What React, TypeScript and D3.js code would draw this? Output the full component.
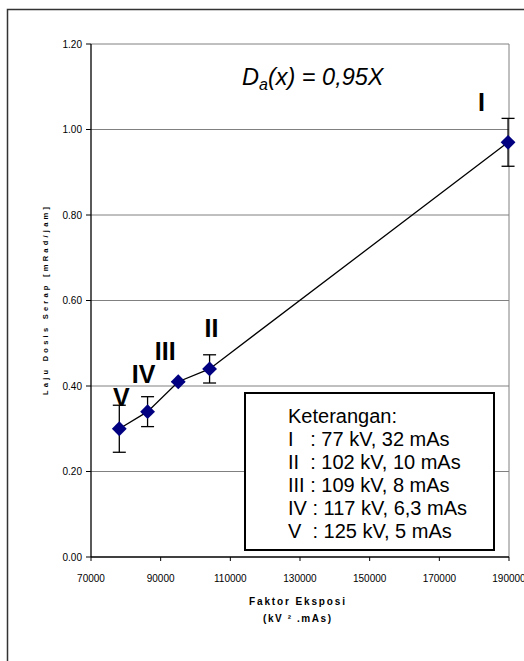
import React from 'react';
import * as d3 from 'd3';

// data
const pointLabels = ['I', 'II', 'III', 'IV', 'V'];
const exposure = [189728, 104040, 95048, 86240, 78125]; // kV^2 . mAs
const doseRate = [0.97, 0.44, 0.41, 0.34, 0.30];
const doseErr = [0.056, 0.033, 0, 0.035, 0.055];
const xTicks = [70000, 90000, 110000, 130000, 150000, 170000, 190000];
const yTicks = [0, 0.2, 0.4, 0.6, 0.8, 1.0, 1.2];
const legendTitle = 'Keterangan:';
const legendLines = [
    'I   : 77 kV, 32 mAs',
    'II  : 102 kV, 10 mAs',
    'III : 109 kV, 8 mAs',
    'IV : 117 kV, 6,3 mAs',
    'V  : 125 kV, 5 mAs',
];

// layout offsets of the roman numeral labels (px, relative to marker)
const labelDx = [-26.5, 2, -13, -4, 2];
const labelDy = [-31, -32, -22, -29, -23];

const W = 524;
const H = 661;
const plot = {left: 91, right: 509, top: 44, bottom: 557};
const font = 'Arial, "Liberation Sans", sans-serif';

const App: React.FC = () => {
    const x = d3.scaleLinear().domain([70000, 190000]).range([plot.left, plot.right]);
    const y = d3.scaleLinear().domain([0, 1.2]).range([plot.bottom, plot.top]);

    const pts = exposure.map((e, i) => ({e, v: doseRate[i], err: doseErr[i], label: pointLabels[i], i}))
        .sort((a, b) => a.e - b.e);

    const line = d3.line<{e: number; v: number}>().x(d => x(d.e)).y(d => y(d.v));
    const diamond = d3.symbol().type(d3.symbolSquare).size(110)();
    const fmtY = d3.format('.2f');

    return (
        <svg width={W} height={H} style={{position: 'absolute', left: 0, top: 0, background: '#fff'}}
             fontFamily={font}>
            <rect x={7.5} y={9.5} width={700} height={700} fill="#fff" stroke="#333" strokeWidth={1.5}/>

            {/* gridlines */}
            {yTicks.filter(t => t > 0).map(t => (
                <line key={'g' + t} x1={plot.left} x2={plot.right} y1={y(t)} y2={y(t)}
                      stroke="#808080" strokeWidth={1}/>
            ))}
            <line x1={plot.right} x2={plot.right} y1={plot.top} y2={plot.bottom} stroke="#808080" strokeWidth={1}/>

            {/* y axis */}
            <line x1={plot.left} x2={plot.left} y1={plot.top} y2={plot.bottom} stroke="#000" strokeWidth={1.3}/>
            {yTicks.map(t => (
                <g key={'y' + t}>
                    <line x1={plot.left - 5} x2={plot.left} y1={y(t)} y2={y(t)} stroke="#000"/>
                    <text x={82} y={y(t)} dy="0.35em" textAnchor="end" fontSize={10} fill="#000">{fmtY(t)}</text>
                </g>
            ))}

            {/* x axis */}
            <line x1={plot.left} x2={plot.right} y1={plot.bottom} y2={plot.bottom} stroke="#000" strokeWidth={1.3}/>
            {xTicks.map(t => (
                <g key={'x' + t}>
                    <line x1={x(t)} x2={x(t)} y1={plot.bottom} y2={plot.bottom + 4} stroke="#000"/>
                    <text x={x(t)} y={582} textAnchor="middle" fontSize={10} fill="#000">{t}</text>
                </g>
            ))}

            {/* axis titles */}
            <text transform="translate(48,301) rotate(-90)" textAnchor="middle" fontSize={7.5} fontWeight="bold"
                  textLength={188} lengthAdjust="spacing">Laju Dosis Serap [mRad/jam]</text>
            <text x={297} y={605} textAnchor="middle" fontSize={10} fontWeight="bold"
                  textLength={96} lengthAdjust="spacing">Faktor Eksposi</text>
            <text x={297} y={622} textAnchor="middle" fontSize={10} fontWeight="bold"
                  textLength={68} lengthAdjust="spacing">(kV ² .mAs)</text>

            {/* formula */}
            <text x={242} y={85} fontSize={23.5} fontStyle="italic" fill="#000">
                D<tspan dy={5} fontSize={16}>a</tspan><tspan dy={-5}>(x) = 0,95X</tspan>
            </text>

            {/* legend */}
            <rect x={245} y={393} width={249} height={157} fill="#fff" stroke="#000" strokeWidth={2}/>
            <text x={288} y={422.5} fontSize={20} fill="#000">{legendTitle}</text>
            {legendLines.map((s, i) => (
                <text key={s} x={288} y={445.5 + i * 23} fontSize={20} fill="#000"
                      style={{whiteSpace: 'pre'}}>{s}</text>
            ))}

            {/* series line */}
            <path d={line(pts) || ''} fill="none" stroke="#000" strokeWidth={1.3}/>

            {/* error bars */}
            {pts.map(p => (
                <g key={'e' + p.label} stroke="#000" strokeWidth={1.3}>
                    <line x1={x(p.e)} x2={x(p.e)} y1={y(p.v - p.err)} y2={y(p.v + p.err)}/>
                    <line x1={x(p.e) - 6.5} x2={x(p.e) + 6.5} y1={y(p.v - p.err)} y2={y(p.v - p.err)}/>
                    <line x1={x(p.e) - 6.5} x2={x(p.e) + 6.5} y1={y(p.v + p.err)} y2={y(p.v + p.err)}/>
                </g>
            ))}

            {/* markers */}
            {pts.map(p => (
                <path key={'m' + p.label} d={diamond || ''} fill="#000080"
                      transform={`translate(${x(p.e)},${y(p.v)}) rotate(45)`}/>
            ))}

            {/* point labels */}
            {pts.map(p => (
                <text key={'l' + p.label} x={x(p.e) + labelDx[p.i]} y={y(p.v) + labelDy[p.i]}
                      textAnchor="middle" fontSize={25} fontWeight="bold" fill="#000">{p.label}</text>
            ))}
        </svg>
    );
};

export default App;
